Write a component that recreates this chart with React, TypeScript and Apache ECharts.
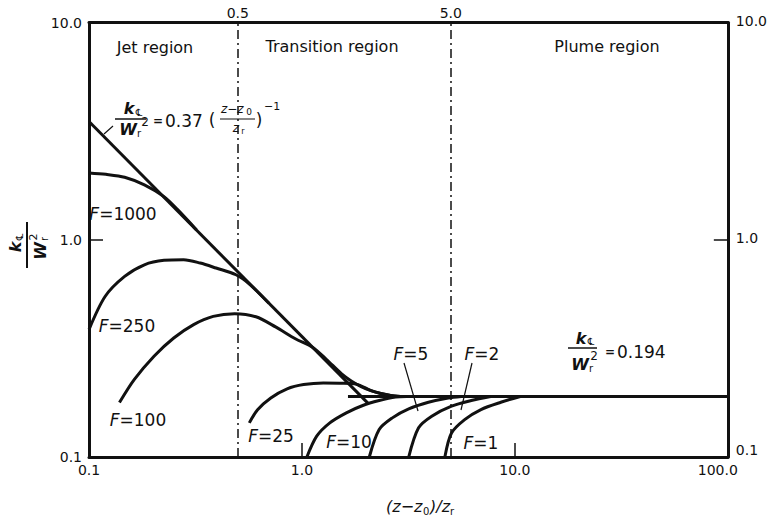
import React, { useEffect, useRef } from "react";
import * as echarts from "echarts";

// ---------------- data ----------------
const xTickValues = [0.1, 1, 10, 100];
const yTickValues = [0.1, 1, 10];
const regionBoundaries = [0.5, 5.0];
const regionNames = ["Jet region", "Transition region", "Plume region"];

// k/W^2 = 0.37 ((z-z0)/zr)^-1  (jet asymptote) and 0.194 (plume asymptote)
const jetAsymptote: [number, number][] = [[0.1, 3.5], [2.04, 0.177]];
const plumeAsymptote: [number, number][] = [[1.645, 0.19], [100, 0.19]];

const curveF1000: [number, number][] = [[0.1, 2.03], [0.12, 2.0], [0.147, 1.94], [0.182, 1.79], [0.225, 1.58], [0.26, 1.38], [0.32, 1.11]];
const curveF250: [number, number][] = [[0.1, 0.386], [0.119, 0.548], [0.147, 0.678], [0.182, 0.767], [0.225, 0.804], [0.278, 0.809], [0.333, 0.781], [0.395, 0.741], [0.49, 0.69], [0.57, 0.622], [0.7, 0.51]];
const curveF100: [number, number][] = [[0.139, 0.178], [0.163, 0.227], [0.202, 0.291], [0.25, 0.353], [0.31, 0.407], [0.383, 0.444], [0.483, 0.457], [0.608, 0.442], [0.752, 0.397], [0.931, 0.35], [1.12, 0.32], [1.305, 0.281], [1.531, 0.242], [1.704, 0.224], [1.896, 0.211], [2.11, 0.202], [2.346, 0.196], [2.61, 0.192], [2.9, 0.19]];
const curveF25: [number, number][] = [[0.566, 0.1436], [0.619, 0.165], [0.714, 0.187], [0.852, 0.206], [1.018, 0.2155], [1.26, 0.2193], [1.5, 0.2185], [1.8, 0.2165], [2.11, 0.202], [2.346, 0.196], [2.61, 0.192], [2.9, 0.19]];
const curveF10: [number, number][] = [[1.055, 0.1], [1.173, 0.1247], [1.352, 0.1436], [1.616, 0.1597], [1.93, 0.1726], [2.305, 0.1819], [2.755, 0.189], [3.1, 0.19]];
const curveF5: [number, number][] = [[2.072, 0.1], [2.305, 0.1338], [2.658, 0.1514], [3.173, 0.1665], [3.926, 0.1786], [4.86, 0.187], [5.6, 0.19]];
const curveF2: [number, number][] = [[3.173, 0.1], [3.53, 0.1362], [4.07, 0.154], [5.04, 0.1713], [6.24, 0.1819], [7.7, 0.19]];
const curveF1: [number, number][] = [[4.69, 0.1], [5.04, 0.129], [5.81, 0.1487], [6.93, 0.1654], [8.59, 0.1786], [10.6, 0.19]];

const fValues = ["1000", "250", "100", "25", "10", "5", "2", "1"];
const fCurves = [curveF1000, curveF250, curveF100, curveF25, curveF10, curveF5, curveF2, curveF1];

// ---------------- layout (pixels) ----------------
const INK = "#111";
const FONT = "DejaVu Sans";
const fLabelPos: [number, number][] = [[123, 214], [127, 326], [138, 420], [271, 436], [349, 442], [411, 354], [482, 354], [481, 443]];
const regionLabelPos: [number, number][] = [[155, 47], [332, 46], [607, 46]];

function txt(x: number, y: number, text: string, size: number, extra: any = {}) {
  return {
    type: "text",
    x,
    y,
    silent: true,
    style: {
      text,
      fill: INK,
      fontSize: size,
      fontFamily: FONT,
      align: "center",
      verticalAlign: "middle",
      ...extra,
    },
  };
}
function ln(x1: number, y1: number, x2: number, y2: number, w = 1.5) {
  return { type: "line", silent: true, shape: { x1, y1, x2, y2 }, style: { stroke: INK, lineWidth: w } };
}

const xMax = xTickValues[xTickValues.length - 1];
const yMin = yTickValues[0];
const xTickFmt = (v: number) => {
  const s = Number(v).toFixed(1);
  return Math.abs(v - xMax) < 1e-6 ? "{m|" + s + "}" : s;
};
const yTickFmt = (v: number) => Number(v).toFixed(1);
const yRightFmt = (v: number) => {
  const s = Number(v).toFixed(1);
  return Math.abs(v - yMin) < 1e-9 ? "{lo|" + s + "}" : "{up|" + s + "}";
};

function buildOption() {
  const curveSeries = fCurves.map((d, i) => ({
    type: "line",
    name: "F=" + fValues[i],
    data: d,
    symbol: "none",
    smooth: 0.3,
    silent: true,
    lineStyle: { color: INK, width: 3 },
    z: 3,
  }));

  const series: any[] = [
    {
      type: "line",
      name: "jet asymptote",
      data: jetAsymptote,
      symbol: "none",
      silent: true,
      lineStyle: { color: INK, width: 3 },
      z: 3,
    },
    {
      type: "line",
      name: "plume asymptote",
      data: plumeAsymptote,
      symbol: "none",
      silent: true,
      lineStyle: { color: INK, width: 3 },
      z: 3,
      markLine: {
        symbol: "none",
        silent: true,
        animation: false,
        lineStyle: { type: [9, 4, 2, 4], color: INK, width: 1.5 },
        label: {
          show: true,
          position: "end",
          distance: 3,
          formatter: (p: any) => Number(p.value).toFixed(1),
          color: INK,
          fontSize: 14,
          fontFamily: FONT,
        },
        data: regionBoundaries.map((v) => ({ xAxis: v })),
      },
    },
    ...curveSeries,
  ];

  const axisLabelStyle = { color: INK, fontSize: 14, fontFamily: FONT };
  const logX = {
    type: "log",
    logBase: 10,
    min: xTickValues[0],
    max: xMax,
    splitLine: { show: false },
    minorTick: { show: false },
  };
  const logY = {
    type: "log",
    logBase: 10,
    min: yMin,
    max: yTickValues[yTickValues.length - 1],
    splitLine: { show: false },
    minorTick: { show: false },
  };

  const graphic: any[] = [];

  // curve labels
  fValues.forEach((f, i) => {
    const [x, y] = fLabelPos[i];
    graphic.push(
      txt(x, y, "{i|F}=" + f, 17, {
        rich: { i: { fontStyle: "italic", fontSize: 17, fontFamily: FONT, fill: INK } },
      })
    );
  });
  // leader lines for F=5 and F=2
  graphic.push(ln(404, 363, 418, 411, 1.2));
  graphic.push(ln(472, 363, 461, 410, 1.2));

  // region labels
  regionNames.forEach((r, i) => {
    const [x, y] = regionLabelPos[i];
    graphic.push(txt(x, y, r, 16));
  });

  // jet asymptote formula
  graphic.push(
    txt(129, 108, "k", 16, { fontStyle: "italic", fontWeight: "bold" }),
    txt(139, 112, "\u2104", 10),
    ln(115, 119, 146, 119, 1.5),
    txt(128, 129, "W", 16, { fontStyle: "italic", fontWeight: "bold" }),
    txt(139, 133, "r", 10),
    txt(145, 122, "2", 12),
    txt(158, 121, "=", 12, { fontWeight: "bold" }),
    txt(165, 121, "0.37", 17, { align: "left" }),
    txt(212, 120, "(", 17),
    txt(221, 109, "z\u2212z", 12, { align: "left", fontStyle: "italic" }),
    txt(249, 112, "0", 9),
    ln(220, 119, 255, 119, 1.2),
    txt(236, 128, "z", 12, { fontStyle: "italic" }),
    txt(243, 131, "r", 8),
    txt(259, 120, ")", 17),
    txt(264, 106, "\u22121", 11, { align: "left" }),
    ln(104, 134, 113, 126, 1.2)
  );

  // plume asymptote formula
  graphic.push(
    txt(581, 338, "k", 16, { fontStyle: "italic", fontWeight: "bold" }),
    txt(591, 341, "\u2104", 10),
    ln(568, 348, 597, 348, 1.5),
    txt(580, 364, "W", 16, { fontStyle: "italic", fontWeight: "bold" }),
    txt(591, 368, "r", 10),
    txt(594, 356, "2", 12),
    txt(610, 352, "=", 12, { fontWeight: "bold" }),
    txt(617, 352, "0.194", 17, { align: "left" })
  );

  // x axis title
  graphic.push(
    txt(386, 506, "(z\u2212z", 16, { align: "left", fontStyle: "italic" }),
    txt(423, 511, "0", 10, { align: "left" }),
    txt(430, 506, ")/z", 16, { align: "left", fontStyle: "italic" }),
    txt(450, 511, "r", 10, { align: "left" })
  );

  // y axis title (rotated fraction)
  graphic.push({
    type: "group",
    x: 27,
    y: 245,
    rotation: Math.PI / 2,
    silent: true,
    children: [
      txt(-2, -12, "k", 16, { fontStyle: "italic", fontWeight: "bold" }),
      txt(8, -8, "\u2104", 10),
      ln(-23, 0, 23, 0, 2),
      txt(-6, 13, "W", 16, { fontStyle: "italic", fontWeight: "bold" }),
      txt(6, 17, "r", 10),
      txt(8, 6, "2", 11),
    ],
  });

  return {
    animation: false,
    backgroundColor: "#fff",
    grid: { left: 89, right: 33, top: 22.5, bottom: 60, containLabel: false },
    xAxis: [
      {
        ...logX,
        position: "bottom",
        axisLine: { show: true, lineStyle: { color: INK, width: 3 } },
        axisTick: { show: true, inside: true, length: 14, lineStyle: { color: INK, width: 1.5 } },
        axisLabel: {
          ...axisLabelStyle,
          margin: 6,
          formatter: xTickFmt,
          rich: { m: { ...axisLabelStyle, padding: [0, 20, 0, 0] } },
        },
      },
      {
        ...logX,
        position: "top",
        axisLine: { show: true, lineStyle: { color: INK, width: 3 } },
        axisTick: { show: false },
        axisLabel: { show: false },
      },
    ],
    yAxis: [
      {
        ...logY,
        position: "left",
        axisLine: { show: true, lineStyle: { color: INK, width: 3 } },
        axisTick: { show: true, inside: true, length: 14, lineStyle: { color: INK, width: 1.5 } },
        axisLabel: { ...axisLabelStyle, margin: 7, formatter: yTickFmt },
      },
      {
        ...logY,
        position: "right",
        axisLine: { show: true, lineStyle: { color: INK, width: 3 } },
        axisTick: { show: true, inside: true, length: 14, lineStyle: { color: INK, width: 1.5 } },
        axisLabel: {
          ...axisLabelStyle,
          margin: 8,
          formatter: yRightFmt,
          rich: {
            up: { ...axisLabelStyle, padding: [0, 0, 4, 0] },
            lo: { ...axisLabelStyle, padding: [0, 0, 14, 0] },
          },
        },
      },
    ],
    series,
    graphic,
  };
}

export default function App() {
  const ref = useRef<HTMLDivElement>(null);
  useEffect(() => {
    if (!ref.current) return;
    const chart = echarts.init(ref.current, null, { renderer: "svg" });
    chart.setOption(buildOption() as any);
    return () => chart.dispose();
  }, []);
  return (
    <div
      ref={ref}
      style={{ position: "fixed", left: 0, top: 0, width: 770, height: 517, background: "#fff" }}
    />
  );
}
